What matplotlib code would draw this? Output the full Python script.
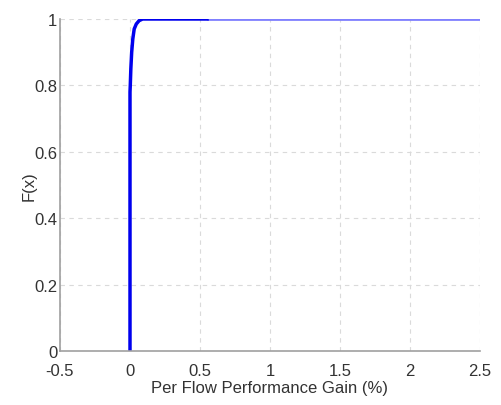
import numpy as np
import matplotlib
matplotlib.use("Agg")
import matplotlib.pyplot as plt

plt.rcParams['font.family'] = ['Liberation Sans', 'DejaVu Sans']

# CDF of per flow performance gain
gain = [0.0, 0.0, 0.002, 0.006, 0.012, 0.02, 0.03, 0.045, 0.065, 0.09, 0.15, 0.55]
cdf = [0.0, 0.78, 0.80, 0.85, 0.90, 0.94, 0.97, 0.985, 0.995, 1.0, 1.0, 1.0]
tail_gain = [0.55, 2.5]
tail_cdf = [1.0, 1.0]

xticks = [-0.5, 0, 0.5, 1, 1.5, 2, 2.5]
xtick_labels = ['-0.5', '0', '0.5', '1', '1.5', '2', '2.5']
yticks = [0, 0.2, 0.4, 0.6, 0.8, 1]
ytick_labels = ['0', '0.2', '0.4', '0.6', '0.8', '1']

fig = plt.figure(figsize=(5.02, 4.06), dpi=100)
ax = fig.add_axes([60 / 502, 54 / 406, 420 / 502, 332 / 406])

ax.plot(tail_gain, tail_cdf, color='#8080ff', linewidth=2, solid_capstyle='butt')
ax.plot(gain, cdf, color='#0000ee', linewidth=2.5, solid_joinstyle='round')

ax.set_xlim(-0.5, 2.5)
ax.set_ylim(0, 1)
ax.set_xticks(xticks)
ax.set_xticklabels(xtick_labels)
ax.set_yticks(yticks)
ax.set_yticklabels(ytick_labels)
ax.grid(True, linestyle=(0, (4, 4)), color='#dadada', linewidth=0.8)
ax.set_axisbelow(True)

for side in ['top', 'right']:
    ax.spines[side].set_visible(False)
for side in ['left', 'bottom']:
    ax.spines[side].set_color('#a0a0a0')
    ax.spines[side].set_linewidth(1.2)

ax.tick_params(length=0, labelsize=12, colors='#333333')
ax.tick_params(axis='x', pad=9)
ax.tick_params(axis='y', pad=2)
ax.set_xlabel('Per Flow Performance Gain (%)', fontsize=12, color='#333333', labelpad=1)
ax.set_ylabel('F(x)', fontsize=12, color='#333333', labelpad=-2)

fig.savefig('out.png', dpi=100, facecolor='white')
